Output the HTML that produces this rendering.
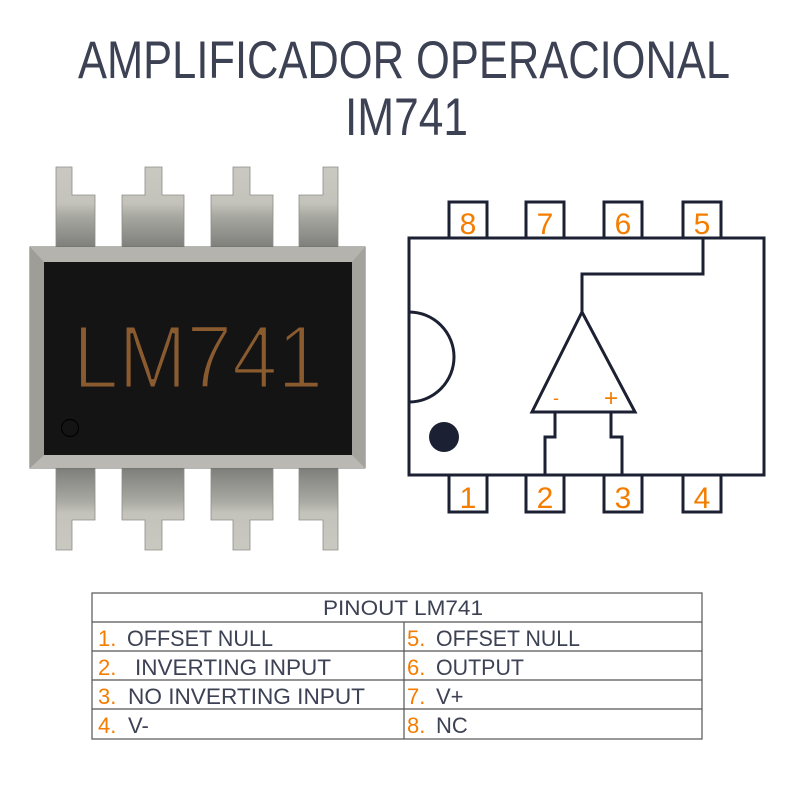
<!DOCTYPE html>
<html><head><meta charset="utf-8"><style>html,body{margin:0;padding:0;background:#fff}svg{display:block}</style></head>
<body>
<svg width="800" height="800" viewBox="0 0 800 800" xmlns="http://www.w3.org/2000/svg" font-family="Liberation Sans, sans-serif">
<defs>
<linearGradient id="pinT" x1="0" y1="0" x2="0" y2="1">
<stop offset="0" stop-color="#c9c9c1"/><stop offset="0.45" stop-color="#c3c3bb"/><stop offset="0.6" stop-color="#a9a9a3"/><stop offset="1" stop-color="#7d7d7a"/>
</linearGradient>
<linearGradient id="pinB" x1="0" y1="1" x2="0" y2="0">
<stop offset="0" stop-color="#c9c9c1"/><stop offset="0.45" stop-color="#c3c3bb"/><stop offset="0.6" stop-color="#a9a9a3"/><stop offset="1" stop-color="#7d7d7a"/>
</linearGradient>
</defs>
<rect width="800" height="800" fill="#fff"/>
<text x="78" y="78" font-size="53" fill="#3d4154" textLength="652" lengthAdjust="spacingAndGlyphs">AMPLIFICADOR OPERACIONAL</text>
<text x="345" y="135" font-size="53" fill="#3d4154" textLength="123" lengthAdjust="spacingAndGlyphs">IM741</text>

<g fill="url(#pinT)" stroke="#8d8d88" stroke-width="0.8">
<path d="M56,167 H72 V195 H95 V248 H56 Z"/>
<path d="M145,167 H162 V195 H184 V248 H122 V195 H145 Z"/>
<path d="M233,167 H250 V195 H273 V248 H211 V195 H233 Z"/>
<path d="M323,167 H338 V248 H299 V195 H323 Z"/>
</g>
<g fill="url(#pinB)" stroke="#8d8d88" stroke-width="0.8">
<path d="M56,550 H72 V520 H95 V468 H56 Z"/>
<path d="M145,550 H162 V520 H184 V468 H122 V520 H145 Z"/>
<path d="M233,550 H250 V520 H273 V468 H211 V520 H233 Z"/>
<path d="M323,550 H338 V468 H299 V520 H323 Z"/>
</g>
<rect x="30" y="247" width="335" height="221" fill="#a9a8a2" stroke="#6e6e6a"/>
<polygon points="30,247 365,247 352,262 44,262" fill="#b4b3ad"/>
<polygon points="30,468 365,468 352,455 44,455" fill="#b9b8b2"/>
<polygon points="30,247 44,262 44,455 30,468" fill="#9e9d98"/>
<polygon points="365,247 352,262 352,455 365,468" fill="#a3a29c"/>
<rect x="44" y="262" width="308" height="193" fill="#141414"/>
<text x="73" y="388" font-size="90" fill="#8b5b30" stroke="#141414" stroke-width="3" textLength="250" lengthAdjust="spacingAndGlyphs">LM741</text>
<circle cx="70" cy="428" r="8.5" fill="none" stroke="#000" stroke-width="1.2"/>

<g fill="none" stroke="#1c2033" stroke-width="3">
<rect x="409" y="238" width="355" height="237" fill="#fff"/>
<rect x="449" y="202" width="38" height="36"/>
<rect x="526" y="202" width="38" height="36"/>
<rect x="604" y="202" width="38" height="36"/>
<rect x="683" y="202" width="38" height="36"/>
<rect x="449" y="475" width="38" height="37"/>
<rect x="526" y="475" width="38" height="37"/>
<rect x="604" y="475" width="38" height="37"/>
<rect x="683" y="475" width="38" height="37"/>
<polyline points="703,238 703,274 582,274 582,312"/>
<polygon points="582,312 532,412 635,412"/>
<polyline points="555,412 555,437 545,437 545,475"/>
<polyline points="611,412 611,437 622,437 622,475"/>
<path d="M409,312 A45,45 0 0 1 409,402"/>
</g>
<circle cx="444" cy="437" r="15" fill="#1c2033"/>
<g fill="#f47d00" font-size="30" text-anchor="middle">
<text x="468" y="234">8</text><text x="545" y="234">7</text><text x="623" y="234">6</text><text x="702" y="234">5</text>
<text x="468" y="508">1</text><text x="545" y="508">2</text><text x="623" y="508">3</text><text x="702" y="508">4</text>
<text x="556" y="404" font-size="18">-</text><text x="611" y="406" font-size="24">+</text>
</g>

<g stroke="#555" stroke-width="1.2" fill="none">
<rect x="92" y="593" width="610" height="146"/>
<line x1="92" y1="622" x2="702" y2="622"/>
<line x1="92" y1="651" x2="702" y2="651"/>
<line x1="92" y1="680" x2="702" y2="680"/>
<line x1="92" y1="709" x2="702" y2="709"/>
<line x1="404" y1="622" x2="404" y2="739"/>
</g>
<g font-size="22" fill="#3d4154" lengthAdjust="spacingAndGlyphs">
<text x="323" y="615" font-size="21" textLength="160" lengthAdjust="spacingAndGlyphs">PINOUT LM741</text>
<g fill="#f47d00">
<text x="98" y="646">1.</text><text x="98" y="675">2.</text><text x="98" y="704">3.</text><text x="98" y="733">4.</text>
<text x="407" y="646">5.</text><text x="407" y="675">6.</text><text x="407" y="704">7.</text><text x="407" y="733">8.</text>
</g>
<text x="127" y="646" textLength="146" lengthAdjust="spacingAndGlyphs">OFFSET NULL</text>
<text x="135" y="675" textLength="196" lengthAdjust="spacingAndGlyphs">INVERTING INPUT</text>
<text x="128" y="704" textLength="237" lengthAdjust="spacingAndGlyphs">NO INVERTING INPUT</text>
<text x="128" y="733">V-</text>
<text x="436" y="646" textLength="144" lengthAdjust="spacingAndGlyphs">OFFSET NULL</text>
<text x="436" y="675" textLength="88" lengthAdjust="spacingAndGlyphs">OUTPUT</text>
<text x="436" y="704">V+</text>
<text x="436" y="733">NC</text>
</g>
</svg>
</body></html>
